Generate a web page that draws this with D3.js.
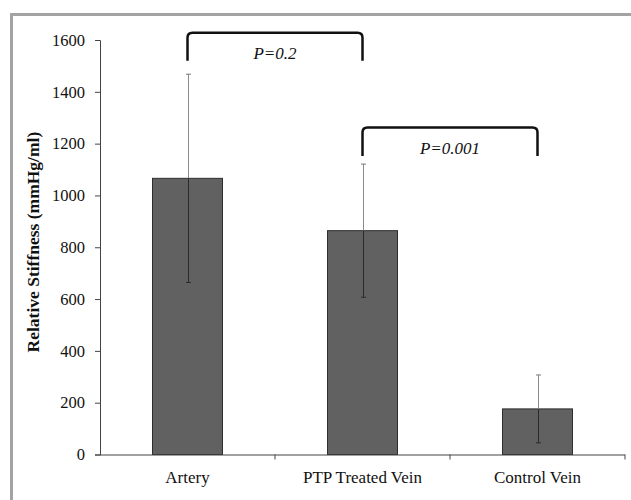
<!DOCTYPE html>
<html>
<head>
<meta charset="utf-8">
<script src="https://cdn.jsdelivr.net/npm/d3@7"></script>
<style>
  body { margin: 0; background: #fff; }
  svg { display: block; }
  svg text { font-family: "Liberation Serif", "Times New Roman", serif; fill: #111; }
</style>
</head>
<body>
<div id="chart"></div>
<script>
// data
var categories = ['Artery', 'PTP Treated Vein', 'Control Vein'];
var means = [1066, 864, 176];
var errors = [402, 257, 131];
var yTicks = [0, 200, 400, 600, 800, 1000, 1200, 1400, 1600];

// significance brackets: from / to category, top level, leg bottom, label
var bracketFrom = ['Artery', 'PTP Treated Vein'];
var bracketTo = ['PTP Treated Vein', 'Control Vein'];
var bracketTop = [1628, 1262];
var bracketLeg = [1520, 1152];
var bracketText = ['P=0.2', 'P=0.001'];

var W = 631, H = 500;
var margin = {top: 40, right: 6, bottom: 45.5, left: 100};

var svg = d3.select('#chart').append('svg')
    .attr('width', W)
    .attr('height', H);

// grey frame (top + left edges only visible)
svg.append('path')
    .attr('d', 'M11.5,' + H + 'V14.5H' + W)
    .attr('fill', 'none')
    .attr('stroke', '#a3a3a3')
    .attr('stroke-width', 3);

var x = d3.scaleBand()
    .domain(categories)
    .range([margin.left, W - margin.right])
    .paddingInner(0.6)
    .paddingOuter(0.3);

var y = d3.scaleLinear()
    .domain([0, 1600])
    .range([H - margin.bottom, margin.top]);

// bars
svg.selectAll('.bar')
  .data(categories)
  .enter().append('rect')
    .attr('class', 'bar')
    .attr('x', function(d) { return x(d); })
    .attr('y', function(d, i) { return y(means[i]); })
    .attr('width', x.bandwidth())
    .attr('height', function(d, i) { return y(0) - y(means[i]); })
    .attr('fill', '#616161')
    .attr('stroke', '#2e2e2e')
    .attr('stroke-width', 1);

// error bars
var eb = svg.selectAll('.err')
  .data(categories)
  .enter().append('g')
    .attr('class', 'err')
    .attr('transform', function(d) { return 'translate(' + Math.round(x(d) + x.bandwidth() / 2) + '.5,0)'; });

eb.append('line')
    .attr('y1', function(d, i) { return y(means[i] + errors[i]); })
    .attr('y2', function(d, i) { return y(means[i]); })
    .attr('stroke', '#8a8a8a');
eb.append('line')
    .attr('y1', function(d, i) { return y(means[i]); })
    .attr('y2', function(d, i) { return y(means[i] - errors[i]); })
    .attr('stroke', '#2a2a2a');
eb.append('line')
    .attr('x1', -2.5).attr('x2', 2.5)
    .attr('y1', function(d, i) { return y(means[i] + errors[i]); })
    .attr('y2', function(d, i) { return y(means[i] + errors[i]); })
    .attr('stroke', '#777');
eb.append('line')
    .attr('x1', -2.5).attr('x2', 2.5)
    .attr('y1', function(d, i) { return y(means[i] - errors[i]); })
    .attr('y2', function(d, i) { return y(means[i] - errors[i]); })
    .attr('stroke', '#2a2a2a');

// y axis
var yAxis = svg.append('g')
    .attr('transform', 'translate(' + margin.left + ',0)')
    .call(d3.axisLeft(y).tickValues(yTicks).tickFormat(d3.format('d')).tickSize(5).tickPadding(10));

// x axis with ticks at band boundaries
var xAxis = svg.append('g')
    .attr('transform', 'translate(0,' + y(0) + ')')
    .call(d3.axisBottom(x).tickSize(0).tickPadding(16));

var step = x.step();
xAxis.selectAll('.bound')
  .data(categories)
  .enter().append('line')
    .attr('class', 'bound')
    .attr('x1', function(d) { return x(d) + x.bandwidth() / 2 + step / 2; })
    .attr('x2', function(d) { return x(d) + x.bandwidth() / 2 + step / 2; })
    .attr('y1', 0).attr('y2', 5)
    .attr('stroke', '#444');

[yAxis, xAxis].forEach(function(a) {
  a.attr('font-family', null);
  a.select('.domain').attr('stroke', '#444');
  a.selectAll('.tick line').attr('stroke', '#444');
});
yAxis.attr('font-size', 16.5);
xAxis.attr('font-size', 17);

xAxis.select('.domain').attr('d', 'M' + margin.left + ',0.5H' + (W - margin.right));

// y axis title
svg.append('text')
    .attr('transform', 'translate(39,' + y(820) + ') rotate(-90)')
    .attr('text-anchor', 'middle')
    .attr('font-size', 17.5)
    .attr('font-weight', 'bold')
    .text('Relative Stiffness (mmHg/ml)');

// brackets
var cx = function(c) { return x(c) + x.bandwidth() / 2; };
var r = 5;
bracketText.forEach(function(t, i) {
  var x1 = cx(bracketFrom[i]), x2 = cx(bracketTo[i]);
  var yt = y(bracketTop[i]), yl = y(bracketLeg[i]);
  svg.append('path')
      .attr('d', 'M' + x1 + ',' + yl + 'V' + (yt + r) + 'Q' + x1 + ',' + yt + ' ' + (x1 + r) + ',' + yt +
                 'H' + (x2 - r) + 'Q' + x2 + ',' + yt + ' ' + x2 + ',' + (yt + r) + 'V' + yl)
      .attr('fill', 'none')
      .attr('stroke', '#111')
      .attr('stroke-width', 2.5);
  svg.append('text')
      .attr('x', (x1 + x2) / 2)
      .attr('y', yt + 26)
      .attr('text-anchor', 'middle')
      .attr('font-size', 17)
      .attr('font-style', 'italic')
      .text(t);
});
</script>
</body>
</html>
